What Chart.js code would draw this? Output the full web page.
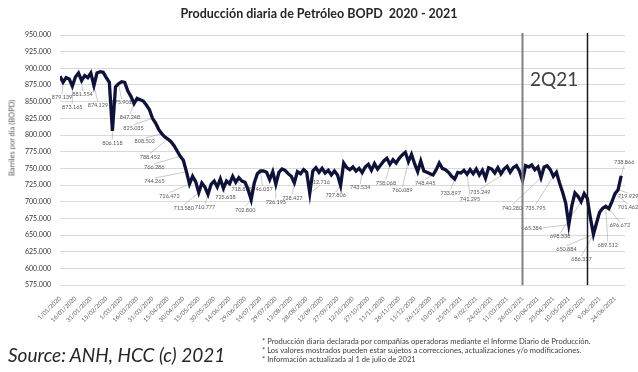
<!DOCTYPE html>
<html>
<head>
<meta charset="utf-8">
<script src="https://cdn.jsdelivr.net/npm/chart.js@4.4.1/dist/chart.umd.min.js"></script>
<style>
  body { margin: 0; background: #fff; }
  #wrap { position: relative; width: 638px; height: 372px; overflow: hidden; font-family: Lato, "Open Sans", sans-serif; }
  #wrap canvas { position: absolute; left: 0; top: 0; }
  .txt { position: absolute; white-space: nowrap; }
  #title { left: 0; width: 638px; top: 6px; text-align: center; font-weight: bold; font-size: 12.5px; color: #262626; }
  #ytitle { left: 12px; top: 138px; font-size: 7.5px; color: #595959; transform: translate(-50%, -50%) rotate(-90deg); }
  #quarter { left: 530px; top: 67px; font-size: 19px; color: #404040; }
  #source { left: 8px; top: 343px; font-size: 19px; font-style: italic; color: #262626; }
  #notes { left: 262px; top: 337px; font-size: 7.6px; line-height: 9px; color: #404040; }
</style>
</head>
<body>
<div id="wrap">
  <canvas id="prodChart" width="638" height="372"></canvas>
  <div class="txt" id="title">Producción diaria de Petróleo BOPD&nbsp; 2020 - 2021</div>
  <div class="txt" id="ytitle">Barriles por día (BOPD)</div>
  <div class="txt" id="quarter">2Q21</div>
  <div class="txt" id="source">Source: ANH, HCC (c) 2021</div>
  <div class="txt" id="notes">* Producción diaria declarada por compañías operadoras mediante el Informe Diario de Producción.<br>* Los valores mostrados pueden estar sujetos a correcciones, actualizaciones y/o modificaciones.<br>* Información actualizada al 1 de julio de 2021</div>
</div>
<script>
// production, thousands of barrels per day, one reading every 3 days from 1/01/2020
const stepDays = 3;
const production = [
    888, 879.1, 886, 884, 873.2, 887, 893, 881.6, 889, 886,
    893, 874.1, 893, 895, 894, 886, 879, 806.1, 872, 877,
    880, 879, 866, 858, 847.2, 855, 853, 851, 845, 838,
    825, 818, 808.5, 802, 797, 794, 790, 784, 776, 768,
    762, 745, 726.5, 738, 730, 713.6, 728, 722, 710.8, 726,
    731, 722, 734, 720, 731, 727, 738, 729, 736, 731,
    729, 718, 702.8, 728, 742, 746, 746, 744, 733, 745,
    726.2, 744, 749, 747, 742, 738, 728.4, 745, 742, 748,
    744, 712.7, 746, 751, 744, 750, 743, 747, 740, 746,
    740, 724, 758, 751, 748, 752, 746, 750, 743.5, 752,
    756, 747, 757, 749, 755, 761, 765, 756, 763, 758,
    765, 770, 774, 760.1, 771, 757, 745, 761, 746, 744,
    742, 740, 748, 758, 750, 748, 744, 738, 733.9, 744,
    743, 747, 741.3, 748, 742, 749, 740, 747, 735.2, 751,
    749, 743, 751, 742, 749, 753, 744, 751, 754, 746,
    732, 754, 752, 755, 748, 752, 736, 752, 754, 748,
    738, 744, 728, 714, 698, 665.4, 694, 713, 708, 700,
    712, 705, 676, 650.9, 668, 684, 690, 693, 689.5, 700,
    712, 718, 738.9
];

// x axis labels, one every 15 days
const tickLabels = [
    '1/01/2020', '16/01/2020', '31/01/2020', '15/02/2020', '1/03/2020', '16/03/2020', '31/03/2020',
    '15/04/2020', '30/04/2020', '15/05/2020', '30/05/2020', '14/06/2020', '29/06/2020', '14/07/2020',
    '29/07/2020', '13/08/2020', '28/08/2020', '12/09/2020', '27/09/2020', '12/10/2020', '27/10/2020',
    '11/11/2020', '26/11/2020', '11/12/2020', '26/12/2020', '10/01/2021', '25/01/2021', '9/02/2021',
    '24/02/2021', '11/03/2021', '26/03/2021', '10/04/2021', '25/04/2021', '10/05/2021', '25/05/2021',
    '9/06/2021', '24/06/2021'
];

// annotated readings: day number and the printed value
const calloutDays = [3, 12, 21, 33, 57, 51, 72, 90, 99, 105, 117, 123, 126, 135, 144, 159, 168, 186, 195, 210,
    228, 243, 273, 294, 321, 339, 363, 384, 396, 441, 468, 480, 495, 507, 519, 519, 531, 534, 540, 543, 546];
const calloutText = ['879.139', '873.165', '881.554', '874.129', '875.901', '806.118', '847.248', '825.035', '808.502',
    '788.452', '766.286', '744.265', '726.472', '713.580', '710.777', '725.638', '718.885', '702.800', '746.037',
    '726.195', '728.427', '712.716', '727.806', '743.534', '758.068', '760.089', '748.445', '733.897', '741.295',
    '735.249', '740.280', '735.795', '665.384', '698.338', '650.884', '686.337', '689.512', '696.672', '701.462',
    '719.929', '738.866'];
// where each label sits relative to its point (px)
const calloutOffset = [[-1, 15], [0, 21], [1, 14], [4, 20], [3, 19], [0, 12], [-4, 14], [-19, 10], [-17, 8],
    [-18, 18], [-26, 11], [-32, 10], [-20, 12], [-15, 16], [-3, 13], [2, 9], [9, 13], [-6, 10], [2, 18],
    [0, 18], [-2, 15], [10, -11], [-5, 10], [-2, 15], [-4, 19], [-6, 29], [-8, 8], [-4, 14], [3, 25],
    [-33, 25], [-29, 31], [-18, 32], [-37, 3], [-21, 35], [-27, 15], [-12, 25], [2, 39], [11, 17],
    [13, 14], [10, 7], [3, -14]];

// quarter markers (day number): gray then black
const quarterDays = [449.5, 512.5];

const points = production.map((v, i) => ({ x: i * stepDays, y: v }));

const calloutPlugin = {
    id: 'callouts',
    beforeDatasetsDraw(chart) {
        const { ctx, scales } = chart;
        ctx.save();
        ctx.font = '5.5px Lato, sans-serif';
        ctx.textAlign = 'center';
        ctx.textBaseline = 'middle';
        calloutDays.forEach((day, k) => {
            const val = production[Math.round(day / stepDays)];
            const px = scales.x.getPixelForValue(day);
            const py = scales.y.getPixelForValue(val);
            const lx = px + calloutOffset[k][0];
            const ly = py + calloutOffset[k][1];
            const w = ctx.measureText(calloutText[k]).width;
            let ex = lx, ey = ly;
            if (Math.abs(calloutOffset[k][1]) > 6) {
                ey = ly - Math.sign(calloutOffset[k][1]) * 3.5;
            } else {
                ex = lx - Math.sign(calloutOffset[k][0]) * (w / 2 + 1);
            }
            ctx.strokeStyle = '#a6a6a6';
            ctx.lineWidth = 0.6;
            ctx.beginPath();
            ctx.moveTo(px, py);
            ctx.lineTo(ex, ey);
            ctx.stroke();
            ctx.fillStyle = '#595959';
            ctx.fillText(calloutText[k], lx, ly);
        });
        ctx.restore();
    },
    afterDatasetsDraw(chart) {
        const { ctx, scales, chartArea } = chart;
        ctx.save();
        quarterDays.forEach((day, k) => {
            const x = Math.round(scales.x.getPixelForValue(day)) + 0.5;
            ctx.strokeStyle = k === 0 ? '#808080' : '#1a1a1a';
            ctx.lineWidth = k === 0 ? 2 : 1.5;
            ctx.beginPath();
            ctx.moveTo(x, chartArea.top - 2);
            ctx.lineTo(x, chartArea.bottom);
            ctx.stroke();
        });
        ctx.restore();
    }
};

new Chart(document.getElementById('prodChart'), {
    type: 'line',
    data: {
        datasets: [{
            data: points,
            borderColor: '#0e1238',
            borderWidth: 3.3,
            pointRadius: 0,
            tension: 0,
            fill: false,
        }]
    },
    options: {
        responsive: false,
        animation: false,
        layout: { padding: { left: 0, right: 13, top: 35, bottom: 0 } },
        plugins: {
            legend: { display: false },
            tooltip: { enabled: false },
        },
        scales: {
            x: {
                type: 'linear',
                min: 0,
                max: 549.7,
                afterFit: (s) => { s.height = 87; },
                grid: { display: false },
                border: { display: false },
                ticks: {
                    stepSize: 15,
                    includeBounds: false,
                    autoSkip: false,
                    minRotation: 45,
                    maxRotation: 45,
                    padding: 2,
                    color: '#595959',
                    font: { family: 'Lato', size: 6 },
                    callback: (v) => tickLabels[Math.round(v / 15)],
                },
            },
            y: {
                min: 575,
                max: 950,
                afterFit: (s) => { s.width = 60; },
                grid: { color: '#d9d9d9', lineWidth: 1, drawTicks: false },
                border: { display: false },
                ticks: {
                    stepSize: 25,
                    padding: 9,
                    color: '#333333',
                    font: { family: 'Lato', size: 7 },
                    callback: (v) => v.toFixed(3),
                },
            },
        },
    },
    plugins: [calloutPlugin],
});
</script>
</body>
</html>
